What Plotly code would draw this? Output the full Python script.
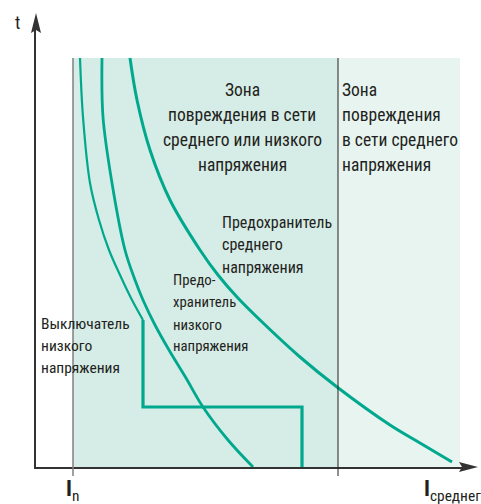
import plotly.graph_objects as go

FONT = "Roboto Condensed, DejaVu Sans Condensed, sans-serif"
TEAL = "#00a88e"
TXT = "#231f20"

# ---------------- data (current on x, time on y, arbitrary units) ----------------
x_range = [0, 426]
y_range = [0, 437]

# zone boundaries
I_n = 37
I_mid = 302
I_zone_end = 424
t_zone_top = 409

# low-voltage circuit breaker: inverse-time part, then instantaneous step
breaker_curve_I = [44, 47, 54, 63, 73, 84, 96, 107]
breaker_curve_t = [409, 350, 284, 247, 217, 192, 167, 147]
breaker_step_I = [107, 107, 266, 266]
breaker_step_t = [147, 60, 60, 0]

# low-voltage fuse
lv_fuse_I = [66, 67, 76, 89, 99, 107, 119, 133, 150, 167, 192, 217]
lv_fuse_t = [409, 350, 284, 217, 187, 167, 142, 117, 89, 60, 27, 0]

# medium-voltage fuse
mv_fuse_I = [94, 101, 114, 134, 164, 182, 201, 224, 264, 301, 354, 384, 416]
mv_fuse_t = [409, 367, 317, 267, 217, 192, 170, 147, 110, 80, 42, 24, 5]

# text
zone_lv_lines = ["Зона", "повреждения в сети", "среднего или низкого", "напряжения"]
zone_mv_lines = ["Зона", "повреждения", "в сети среднего", "напряжения"]
mv_fuse_lines = ["Предохранитель", "среднего", "напряжения"]
lv_fuse_lines = ["Предо-", "хранитель", "низкого", "напряжения"]
breaker_lines = ["Выключатель", "низкого", "напряжения"]
y_title = "t"
x_label_n = "<b>I</b><sub>n</sub>"
x_label_mv = "<b>I</b><sub>среднего</sub>"

# ---------------- layout constants ----------------
zone_line_t = [377, 352, 327, 302]
zone_lv_x = 206
zone_mv_x = 304
mv_fuse_pos = (184, [245, 223, 200])
lv_fuse_pos = (135, [187, 165, 142, 121])
breaker_pos = (3, [143, 121, 99])

fig = go.Figure()

fig.add_trace(go.Scatter(x=breaker_curve_I, y=breaker_curve_t, mode="lines",
                         line=dict(color=TEAL, width=2.2, shape="spline", smoothing=1),
                         hoverinfo="skip", showlegend=False))
fig.add_trace(go.Scatter(x=breaker_step_I, y=breaker_step_t, mode="lines",
                         line=dict(color=TEAL, width=3.2),
                         hoverinfo="skip", showlegend=False))
fig.add_trace(go.Scatter(x=lv_fuse_I, y=lv_fuse_t, mode="lines",
                         line=dict(color=TEAL, width=2.8, shape="spline", smoothing=1),
                         hoverinfo="skip", showlegend=False))
fig.add_trace(go.Scatter(x=mv_fuse_I, y=mv_fuse_t, mode="lines",
                         line=dict(color=TEAL, width=3, shape="spline", smoothing=1),
                         hoverinfo="skip", showlegend=False))

shapes = [
    dict(type="rect", xref="x", yref="y", x0=I_n, x1=I_mid, y0=0, y1=t_zone_top,
         fillcolor="#d6ece6", line=dict(width=0), layer="below"),
    dict(type="rect", xref="x", yref="y", x0=I_mid, x1=I_zone_end, y0=0, y1=t_zone_top,
         fillcolor="#e7f4f0", line=dict(width=0), layer="below"),
    dict(type="line", xref="x", yref="paper", x0=I_n, x1=I_n, y0=-9 / 437, y1=t_zone_top / y_range[1],
         line=dict(color="#808080", width=1.5)),
    dict(type="line", xref="x", yref="paper", x0=I_mid, x1=I_mid, y0=-9 / 437, y1=t_zone_top / y_range[1],
         line=dict(color="#222222", width=1)),
    # axis arrowheads
    dict(type="path", xref="paper", yref="paper", xsizemode="pixel", ysizemode="pixel",
         xanchor=0, yanchor=1, path="M -5,-3 L 0,17 L 5,-3 L 0,0 Z",
         fillcolor="#333333", line=dict(width=0)),
    dict(type="path", xref="paper", yref="paper", xsizemode="pixel", ysizemode="pixel",
         xanchor=1, yanchor=0, path="M -3,-5 L 16,0 L -3,5 L 0,0 Z",
         fillcolor="#333333", line=dict(width=0)),
]

ann = []
def add_lines(lines, x, ys, anchor, size):
    for s, yy in zip(lines, ys):
        ann.append(dict(x=x, y=yy, xref="x", yref="y", text=s, showarrow=False,
                        xanchor=anchor, yanchor="middle",
                        font=dict(family=FONT, size=size, color=TXT)))

add_lines(zone_lv_lines, zone_lv_x, zone_line_t, "center", 17.5)
add_lines(zone_mv_lines, zone_mv_x, zone_line_t, "left", 17.5)
add_lines(mv_fuse_lines, mv_fuse_pos[0], mv_fuse_pos[1], "left", 16)
add_lines(lv_fuse_lines, lv_fuse_pos[0], lv_fuse_pos[1], "left", 14.8)
add_lines(breaker_lines, breaker_pos[0], breaker_pos[1], "left", 15.5)

# axis labels placed outside the plotting area (paper coordinates)
ann.append(dict(x=-0.0434, y=1.017, xref="paper", yref="paper", text=y_title, showarrow=False,
                xanchor="center", yanchor="middle", font=dict(family=FONT, size=18, color=TXT)))
ann.append(dict(x=0.066, y=-0.017, xref="paper", yref="paper", text=x_label_n, showarrow=False,
                xanchor="left", yanchor="top", font=dict(family=FONT, size=22, color=TXT)))
ann.append(dict(x=0.906, y=-0.017, xref="paper", yref="paper", text=x_label_mv, showarrow=False,
                xanchor="left", yanchor="top", font=dict(family=FONT, size=22, color=TXT)))

fig.update_layout(
    width=481, height=504,
    margin=dict(l=36, r=19, t=30, b=37),
    paper_bgcolor="white", plot_bgcolor="white",
    shapes=shapes, annotations=ann,
    xaxis=dict(range=x_range, showgrid=False, zeroline=False, showticklabels=False,
               ticks="", showline=True, linecolor="#333333", linewidth=2, fixedrange=True),
    yaxis=dict(range=y_range, showgrid=False, zeroline=False, showticklabels=False,
               ticks="", showline=True, linecolor="#333333", linewidth=2, fixedrange=True),
)

fig.write_html("out.html", config={"displayModeBar": False},
               post_script="document.body.style.margin='0px';")
